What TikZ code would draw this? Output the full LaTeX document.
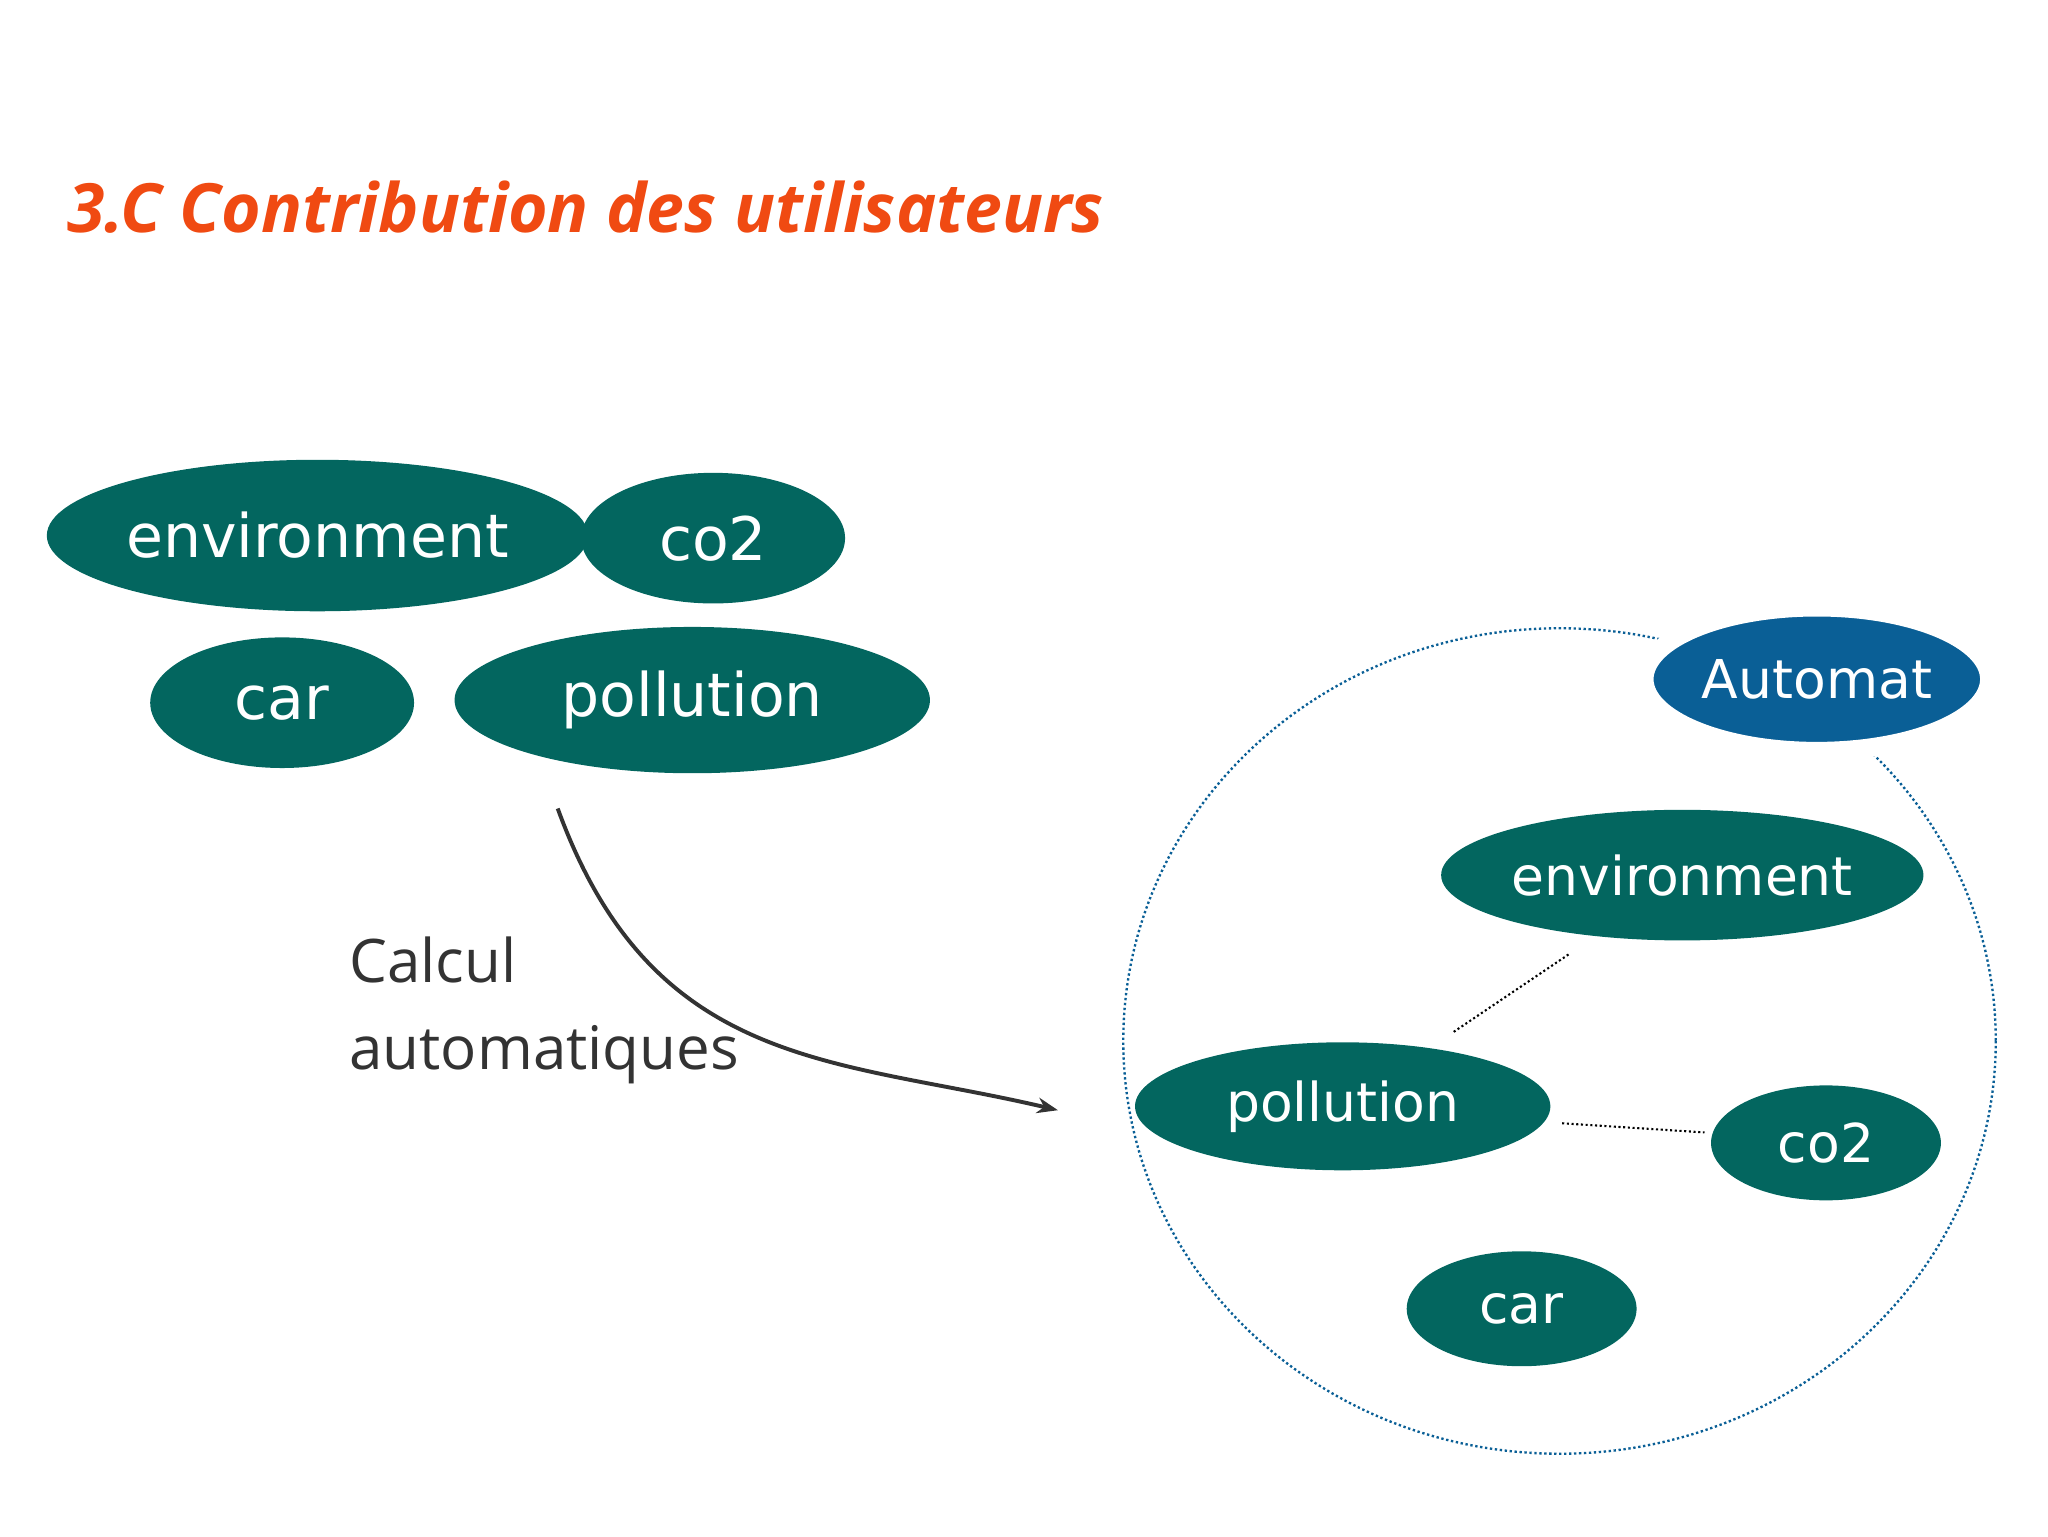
\documentclass[tikz,border=0pt]{standalone}
\usepackage{fontspec}
\setmainfont{DejaVu Sans}
\newfontfamily\titlefont{Open Sans}
\usetikzlibrary{shapes.geometric,arrows.meta}
\definecolor{teal}{HTML}{03665F}
\definecolor{autoblue}{HTML}{0A5F96}
\definecolor{orangered}{HTML}{F04A12}
\definecolor{txtgray}{HTML}{333333}
\tikzset{
 blob/.style={ellipse,fill=teal,text=white,inner sep=0pt,minimum width=2*#1},
 blob/.default=100,
 tagl/.style={font=\fontsize{46}{50}\selectfont},
 tagr/.style={font=\fontsize{41}{46}\selectfont},
 link/.style={dotted,line width=1.6pt,black},
}
\begin{document}
\begin{tikzpicture}[x=1pt,y=-1pt]
\useasboundingbox (0,0) rectangle (1568,1176);
\node[anchor=base west,text=orangered,font=\titlefont\bfseries\itshape\fontsize{52}{60}\selectfont] (title) at (48,178) {3.C Contribution des utilisateurs};
% left group
\node[blob,tagl,minimum width=364,minimum height=116] (env1) at (243,410) {environment};
\node[blob,tagl,minimum width=202,minimum height=100] (co21) at (546,412) {co2};
\node[blob,tagl,minimum width=202,minimum height=100] (car1) at (216,538) {car};
\node[blob,tagl,minimum width=364,minimum height=112] (pol1) at (530,536) {pollution};
% big circle
\draw[autoblue,dotted,line width=1.8pt] (1194,797) ellipse [x radius=334,y radius=316];
\node[ellipse,fill=autoblue,draw=white,line width=14pt,text=white,tagr,minimum width=264,minimum height=110] (auto) at (1391,520) {Automat};
\node[blob,tagr,minimum width=316,minimum height=100] (env2) at (1288,670) {environment};
\node[blob,tagr,minimum width=318,minimum height=98] (pol2) at (1028,847) {pollution};
\node[blob,tagr,minimum width=176,minimum height=88] (co22) at (1398,875) {co2};
\node[blob,tagr,minimum width=176,minimum height=88] (car2) at (1165,1002) {car};
\coordinate (a1) at (1113,790); \coordinate (a2) at (1202,730);
\coordinate (b1) at (1196,860); \coordinate (b2) at (1305,867);
\draw[link] (a1) -- (a2);
\draw[link] (b1) -- (b2);
% arrow
\coordinate (s) at (427,619); \coordinate (e) at (810,850);
\draw[txtgray,line width=3pt,-{Stealth[length=16pt,width=12pt]}] (s) .. controls (500,820) and (640,810) .. (e);
\node[anchor=base west,align=left,text=txtgray,font=\titlefont\fontsize{46}{67}\selectfont] (calc) at (264,819) {Calcul\\automatiques};
\end{tikzpicture}
\end{document}
